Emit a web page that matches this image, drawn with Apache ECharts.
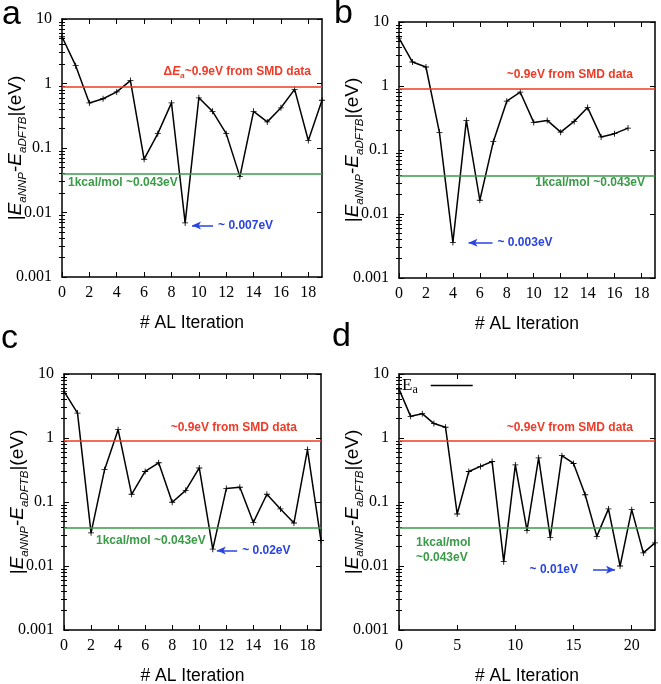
<!DOCTYPE html>
<html><head><meta charset="utf-8">
<script src="https://cdn.jsdelivr.net/npm/echarts@6/dist/echarts.min.js"></script>
<style>html,body{margin:0;padding:0;background:#fff}#c{width:661px;height:684px}</style>
</head><body><div id="c"></div><script>
// ---- data ----
const iterA = [0,1,2,3,4,5,6,7,8,9,10,11,12,13,14,15,16,17,18,19];
const errA  = [5.3,1.89,0.50,0.58,0.74,1.11,0.067,0.167,0.50,0.0069,0.60,0.37,0.167,0.036,0.37,0.254,0.42,0.81,0.131,0.55];
const iterB = [0,1,2,3,4,5,6,7,8,9,10,11,12,13,14,15,16,17];
const errB  = [5.6,2.37,1.98,0.189,0.0036,0.29,0.0164,0.135,0.58,0.80,0.27,0.29,0.19,0.28,0.46,0.16,0.18,0.22];
const iterC = [0,1,2,3,4,5,6,7,8,9,10,11,12,13,14,15,16,17,18,19];
const errC  = [5.36,2.45,0.033,0.32,1.35,0.132,0.30,0.41,0.099,0.152,0.34,0.0183,0.162,0.17,0.048,0.132,0.078,0.047,0.66,0.025];
const iterD = [0,1,2,3,4,5,6,7,8,9,10,11,12,13,14,15,16,17,18,19,20,21,22];
const errD  = [5.8,2.18,2.40,1.68,1.47,0.065,0.30,0.36,0.43,0.0117,0.38,0.036,0.49,0.028,0.53,0.40,0.13,0.029,0.078,0.010,0.076,0.016,0.023];
const smdLevel = 0.9;
const kcalLevel = 0.043;
const xMaxABC = 19, xMaxD = 22;
const xTicksABC = [0,2,4,6,8,10,12,14,16,18];
const xTicksD = [0,5,10,15,20];
const yTicks = [0.001,0.01,0.1,1,10];
const yTickLabels = ['0.001','0.01','0.1','1','10'];
const yMinorTicks = [];
for (let d = 0; d < yTicks.length - 1; d++) for (let m = 2; m <= 9; m++) yMinorTicks.push(+(yTicks[d]*m).toPrecision(3));
// annotation arrows: [x0, x1, y]
const arrowA = [9.5, 11.04, 0.0063];
const arrowB = [5.16, 6.94, 0.00357];
const arrowC = [11.3, 12.8, 0.0174];
const arrowD = [16.67, 18.56, 0.0087];
const arrowTextA = '~ 0.007eV', arrowTextB = '~ 0.003eV', arrowTextC = '~ 0.02eV', arrowTextD = '~ 0.01eV';

const RED = '#ef3a26', GREEN = '#3a9a48', BLUE = '#2a44e0';
const SERIF = 'Liberation Serif', SANS = 'Liberation Sans';
const plus = 'path://M-0.7,-5H0.7V-0.7H5V0.7H0.7V5H-0.7V0.7H-5V-0.7H-0.7Z';

const grids = [
  {left: 62, top: 19, width: 260, height: 258},
  {left: 399, top: 22, width: 256, height: 256},
  {left: 64, top: 374, width: 257, height: 256},
  {left: 399, top: 374, width: 256, height: 256}
];
const panels = [
  {x: iterA, y: errA, xmax: xMaxABC, xt: xTicksABC, arrow: arrowA, at: arrowTextA, dir: 'left', name: 'a'},
  {x: iterB, y: errB, xmax: xMaxABC, xt: xTicksABC, arrow: arrowB, at: arrowTextB, dir: 'left', name: 'b'},
  {x: iterC, y: errC, xmax: xMaxABC, xt: xTicksABC, arrow: arrowC, at: arrowTextC, dir: 'left', name: 'c'},
  {x: iterD, y: errD, xmax: xMaxD, xt: xTicksD, arrow: arrowD, at: arrowTextD, dir: 'right', name: 'Ea'}
];

const xAxis = [], yAxis = [], series = [];
const axisLine = {show: true, onZero: false, lineStyle: {color: '#000', width: 1.5}};
panels.forEach((p, k) => {
  xAxis.push({
    type: 'value', gridIndex: k, min: 0, max: p.xmax, position: 'bottom',
    axisLine, splitLine: {show: false},
    axisTick: {inside: true, length: 5, customValues: p.xt, lineStyle: {color: '#000', width: 1}},
    axisLabel: {customValues: p.xt, fontFamily: SERIF, fontSize: 16, color: '#000', margin: 8},
    name: '# AL Iteration', nameLocation: 'middle', nameGap: 37, nameMoveOverlap: false,
    nameTextStyle: {fontFamily: SANS, fontSize: 17.5, color: '#000'}
  });
  xAxis.push({
    type: 'value', gridIndex: k, min: 0, max: p.xmax, position: 'top',
    axisLine, splitLine: {show: false},
    axisTick: {inside: true, length: 5, customValues: p.xt, lineStyle: {color: '#000', width: 1}},
    axisLabel: {show: false}
  });
  const ybase = {type: 'log', logBase: 10, gridIndex: k, min: 0.001, max: 10, splitLine: {show: false}};
  yAxis.push(Object.assign({}, ybase, {
    position: 'left', axisLine,
    axisTick: {inside: true, length: 5, customValues: yTicks, lineStyle: {color: '#000', width: 1}},
    axisLabel: {customValues: yTicks, fontFamily: SERIF, fontSize: 16, color: '#000', margin: 10,
      formatter: v => yTickLabels[Math.round(Math.log10(v)) + 3]},
    name: '|{i|E}{s|aNNP}-{i|E}{s|aDFTB}|(eV)', nameLocation: 'middle', nameGap: 33, nameMoveOverlap: false,
    nameTextStyle: {fontFamily: SANS, fontSize: 19, color: '#000',
      rich: {
        i: {fontFamily: SANS, fontStyle: 'italic', fontSize: 19, color: '#000', lineHeight: 27},
        s: {fontFamily: SANS, fontStyle: 'italic', fontSize: 11.5, color: '#000', verticalAlign: 'bottom', lineHeight: 11.5}
      }}
  }));
  yAxis.push(Object.assign({}, ybase, {
    position: 'right', axisLine,
    axisTick: {inside: true, length: 5, customValues: yTicks, lineStyle: {color: '#000', width: 1}},
    axisLabel: {show: false}
  }));
  yAxis.push(Object.assign({}, ybase, {
    position: 'left', axisLine: {show: false},
    axisTick: {inside: true, length: 3, customValues: yMinorTicks, lineStyle: {color: '#000', width: 1}},
    axisLabel: {show: false}
  }));
  yAxis.push(Object.assign({}, ybase, {
    position: 'right', axisLine: {show: false},
    axisTick: {inside: true, length: 3, customValues: yMinorTicks, lineStyle: {color: '#000', width: 1}},
    axisLabel: {show: false}
  }));
  const ar = p.arrow;
  const lbl = {show: true, position: p.dir === 'left' ? 'end' : 'start', distance: p.dir === 'left' ? 5 : 15,
    formatter: p.at, color: BLUE, fontFamily: SANS, fontWeight: 'bold', fontSize: 12};
  const ls = {color: BLUE, width: 1.5, type: 'solid'};
  series.push({
    type: 'line', name: p.name, xAxisIndex: 2 * k, yAxisIndex: 4 * k,
    data: p.x.map((xv, i) => [xv, p.y[i]]),
    lineStyle: {color: '#000', width: 1.5}, itemStyle: {color: '#000'},
    symbol: plus, symbolSize: 6, showSymbol: true, animation: false, clip: true, z: 3,
    markLine: {
      silent: true, animation: false, symbol: ['none', 'none'],
      data: [
        {yAxis: smdLevel, lineStyle: {color: RED, width: 1.5, type: 'solid'}, label: {show: false}},
        {yAxis: kcalLevel, lineStyle: {color: GREEN, width: 1.5, type: 'solid'}, label: {show: false}},
        [
          {coord: [ar[0], ar[2]], symbol: p.dir === 'left' ? 'arrow' : 'none', symbolSize: [6, 9], lineStyle: ls, label: lbl},
          {coord: [ar[1], ar[2]], symbol: p.dir === 'left' ? 'none' : 'arrow', symbolSize: [6, 9], lineStyle: ls, label: lbl}
        ]
      ]
    }
  });
});

const redRich = {
  t: {fontFamily: SANS, fontWeight: 'bold', fontSize: 12, fill: RED},
  i: {fontFamily: SANS, fontWeight: 'bold', fontStyle: 'italic', fontSize: 12, fill: RED, lineHeight: 16},
  s: {fontFamily: SANS, fontWeight: 'bold', fontStyle: 'italic', fontSize: 8, fill: RED, verticalAlign: 'bottom', lineHeight: 8}
};
function txt(x, y, text, color, align, extra) {
  return Object.assign({type: 'text', x, y, silent: true,
    style: {text, fill: color, font: 'bold 12px "Liberation Sans"', textAlign: align, textVerticalAlign: 'middle', rich: redRich}}, extra || {});
}
function panelLabel(x, y, t) {
  return {type: 'text', x, y, silent: true, style: {text: t, fill: '#000', font: '34px "Liberation Sans"', textAlign: 'left', textVerticalAlign: 'top'}};
}
const graphic = [
  panelLabel(2, -2, 'a'), panelLabel(334, -3, 'b'), panelLabel(1, 322, 'c'), panelLabel(332, 320, 'd'),
  txt(311, 72, '{t|Δ}{i|E}{s|a}{t|~0.9eV from SMD data}', RED, 'right'),
  txt(68, 183, '1kcal/mol ~0.043eV', GREEN, 'left'),
  txt(633, 75, '~0.9eV from SMD data', RED, 'right'),
  txt(645, 183, '1kcal/mol ~0.043eV', GREEN, 'right'),
  txt(297, 428, '~0.9eV from SMD data', RED, 'right'),
  txt(96, 541, '1kcal/mol ~0.043eV', GREEN, 'left'),
  txt(633, 428, '~0.9eV from SMD data', RED, 'right'),
  {type: 'text', x: 416, y: 550, silent: true, style: {text: '1kcal/mol\n~0.043eV', fill: GREEN, font: 'bold 12px "Liberation Sans"', lineHeight: 14.5, textAlign: 'left', textVerticalAlign: 'middle'}}
];

const chart = echarts.init(document.getElementById('c'), null, {renderer: 'canvas'});
chart.setOption({
  backgroundColor: '#fff', animation: false,
  grid: grids.map(g => Object.assign({containLabel: false, outerBoundsMode: 'none'}, g)),
  xAxis, yAxis, series, graphic,
  legend: {
    data: [{name: 'Ea', icon: 'rect'}], left: 402, top: 377, align: 'right', padding: 0,
    itemWidth: 42, itemHeight: 1.5, selectedMode: false,
    formatter: () => '{e|E}{s|a}',
    textStyle: {padding: [0, 8, 0, 0], rich: {
      e: {fontFamily: SERIF, fontSize: 17, color: '#000', lineHeight: 20},
      s: {fontFamily: SERIF, fontSize: 12, color: '#000', verticalAlign: 'bottom', lineHeight: 12}
    }}
  }
});
</script></body></html>
